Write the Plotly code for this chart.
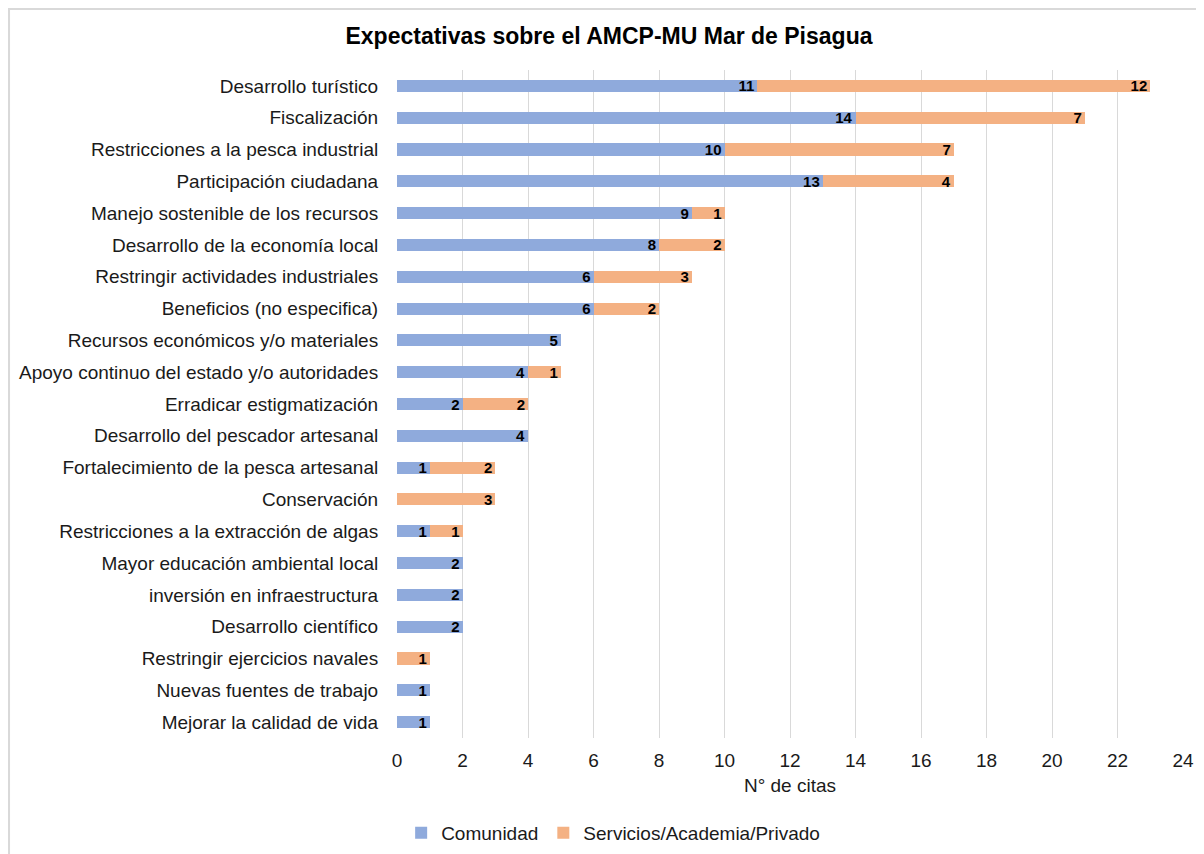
import plotly.graph_objects as go

categories = [
    "Desarrollo turístico",
    "Fiscalización",
    "Restricciones a la pesca industrial",
    "Participación ciudadana",
    "Manejo sostenible de los recursos",
    "Desarrollo de la economía local",
    "Restringir actividades industriales",
    "Beneficios (no especifica)",
    "Recursos económicos y/o materiales",
    "Apoyo continuo del estado y/o autoridades",
    "Erradicar estigmatización",
    "Desarrollo del pescador artesanal",
    "Fortalecimiento de la pesca artesanal",
    "Conservación",
    "Restricciones a la extracción de algas",
    "Mayor educación ambiental local",
    "inversión en infraestructura",
    "Desarrollo científico",
    "Restringir ejercicios navales",
    "Nuevas fuentes de trabajo",
    "Mejorar la calidad de vida",
]
comunidad = [11, 14, 10, 13, 9, 8, 6, 6, 5, 4, 2, 4, 1, 0, 1, 2, 2, 2, 0, 1, 1]
servicios = [12, 7, 7, 4, 1, 2, 3, 2, 0, 1, 2, 0, 2, 3, 1, 0, 0, 0, 1, 0, 0]
x_ticks = list(range(0, 25, 2))

BLUE = "#8FAADC"
ORANGE = "#F4B183"
FONT = "Liberation Sans, Arial, sans-serif"


def labels(vals):
    # Excel hides zero-valued labels
    return [str(v) if v else "" for v in vals]


fig = go.Figure()
for name, vals, color in [
    ("Comunidad", comunidad, BLUE),
    ("Servicios/Academia/Privado", servicios, ORANGE),
]:
    fig.add_trace(go.Bar(
        y=categories, x=vals, name=name, orientation="h",
        marker=dict(color=color, line=dict(width=0)),
        text=labels(vals), textposition="inside", insidetextanchor="end",
        textfont=dict(family=FONT, size=15, color="black", weight="bold"),
        textangle=0, constraintext="none",
    ))

# page body adds an 8px offset, so the figure is 8px smaller than the window
fig.update_layout(
    width=1196, height=846,
    barmode="stack", bargap=0.62,
    paper_bgcolor="white", plot_bgcolor="white",
    margin=dict(l=389, r=21, t=62, b=116, autoexpand=False),
    font=dict(family=FONT, size=19, color="#1a1a1a"),
    title=dict(
        text="<b>Expectativas sobre el AMCP-MU Mar de Pisagua</b>",
        x=0.5025, xanchor="center", y=0.967, yanchor="middle",
        font=dict(size=23, color="black"),
    ),
    legend=dict(
        orientation="h", x=0.275, xanchor="center",
        y=-0.142, yanchor="middle",
        font=dict(size=19, color="#1a1a1a"), traceorder="normal",
        itemwidth=30,
    ),
)
fig.update_xaxes(
    range=[0, 24], tickvals=x_ticks, showgrid=True, gridcolor="#d9d9d9",
    gridwidth=1, zeroline=False, showline=False,
    ticks="outside", ticklen=5, tickcolor="rgba(0,0,0,0)",
    tickfont=dict(size=19, color="#1a1a1a"),
    title=dict(text="N° de citas", font=dict(size=19, color="#1a1a1a"), standoff=8),
)
fig.update_yaxes(
    autorange="reversed", showgrid=False, showline=False,
    ticks="outside", ticklen=14, tickcolor="rgba(0,0,0,0)",
    tickfont=dict(size=19, color="#1a1a1a"),
)

# light gray chart frame
fig.add_shape(
    type="rect", xref="paper", yref="paper",
    x0=-0.4936, x1=1.2, y0=-0.3, y1=1.0913,
    line=dict(color="#d9d9d9", width=2), fillcolor="rgba(0,0,0,0)", layer="below",
)

fig.write_html("out.html")
